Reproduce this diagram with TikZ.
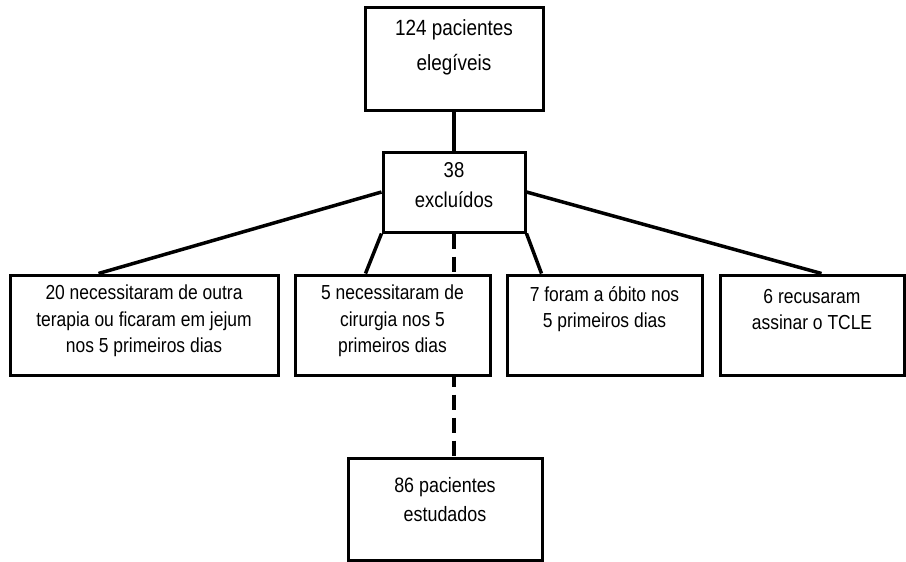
\documentclass[tikz,border=0pt]{standalone}
\usepackage{fontspec}
\setmainfont[FakeStretch=0.86]{Liberation Sans}
\usetikzlibrary{calc}
\pgfdeclarelayer{bg}
\pgfsetlayers{bg,main}
\begin{document}
\begin{tikzpicture}[x=1pt,y=-1pt,
  box/.style={draw, line width=3pt, fill=white, inner sep=0pt},
  conn/.style={line width=3.5pt},
  dashconn/.style={line width=3.5pt, dash pattern=on 15pt off 8pt},
  txt/.style={align=center, inner sep=0pt}]
\useasboundingbox (0,0) rectangle (906,562);
% boxes
\node[box, minimum width=178pt, minimum height=103pt] (b1) at (454,58.5) {};
\node[box, minimum width=142pt, minimum height=80pt] (b2) at (454,192) {};
\node[box, minimum width=268pt, minimum height=100pt] (b3) at (144,325) {};
\node[box, minimum width=195pt, minimum height=100pt] (b4) at (392.5,325) {};
\node[box, minimum width=195pt, minimum height=100pt] (b5) at (604.5,325) {};
\node[box, minimum width=184pt, minimum height=100pt] (b6) at (812,325) {};
\node[box, minimum width=194pt, minimum height=102pt] (b7) at (445,509) {};
% texts
\node[txt, font=\fontsize{22}{35}\selectfont] (t1) at (454,47.5) {124 pacientes\\elegíveis};
\node[txt, font=\fontsize{21.5}{30}\selectfont] (t2) at (454,185) {38\\excluídos};
\node[txt, font=\fontsize{20.3}{26.5}\selectfont] (t3) at (144,321) {20 necessitaram de outra\\terapia ou ficaram em jejum\\nos 5 primeiros dias};
\node[txt, font=\fontsize{20.3}{26.5}\selectfont] (t4) at (392.5,321) {5 necessitaram de\\cirurgia nos 5\\primeiros dias};
\node[txt, font=\fontsize{20.3}{26.5}\selectfont] (t5) at (604.5,309) {7 foram a óbito nos\\5 primeiros dias};
\node[txt, font=\fontsize{20.3}{26.5}\selectfont] (t6) at (812,309.5) {6 recusaram\\assinar o TCLE};
\node[txt, font=\fontsize{20.8}{29}\selectfont] (t7) at (445,499.5) {86 pacientes\\estudados};
% connectors
\begin{pgfonlayer}{bg}
\fill[white] (0,0) rectangle (906,562);
\draw[conn] (b1.south) -- (b2.north);
\draw[conn] (b2.west) -- ($(b3.north west)+(90,0)$);
\draw[conn] (b2.east) -- ($(b6.north west)+(103,0)$);
\draw[conn] (b2.south west) -- ($(b4.north west)+(72,0)$);
\draw[conn] (b2.south east) -- ($(b5.north west)+(36,0)$);
\draw[dashconn] (b2.south) -- (b2.south |- b7.north);
\end{pgfonlayer}
\end{tikzpicture}
\end{document}
